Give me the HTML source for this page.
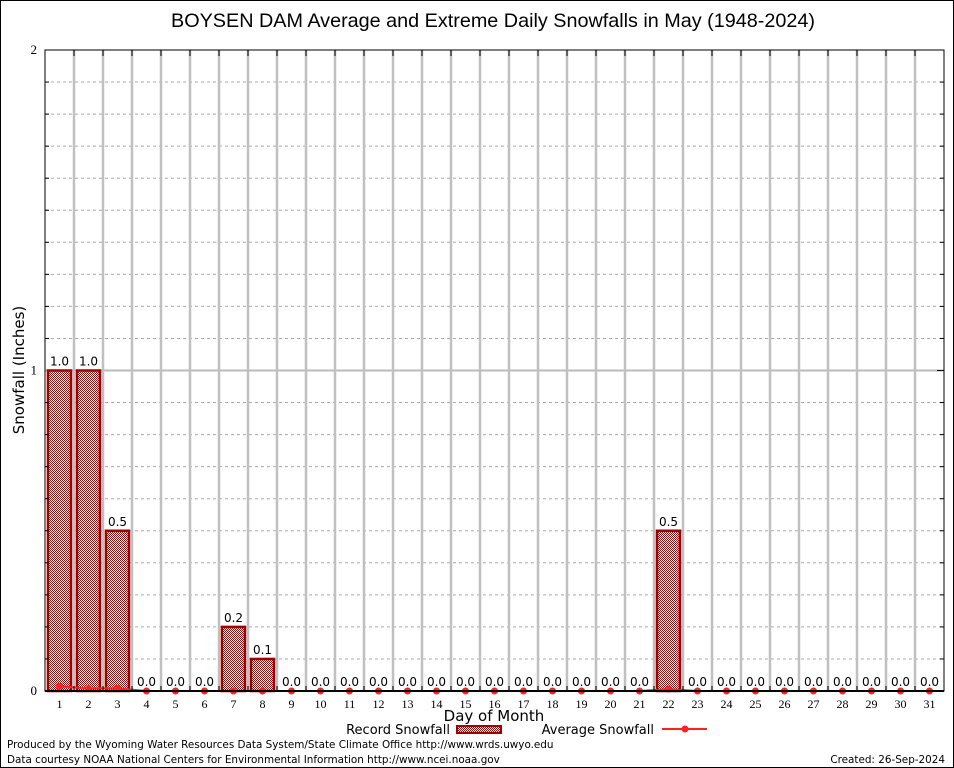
<!DOCTYPE html>
<html><head><meta charset="utf-8"><style>
body{margin:0;background:#fff;}
svg{display:block;font-family:"DejaVu Sans","Liberation Sans",sans-serif;}
</style></head><body>
<svg id="chart" width="954" height="768" viewBox="0 0 954 768">
<defs>
<pattern id="hatch" width="2" height="2" patternUnits="userSpaceOnUse">
<rect width="2" height="2" fill="#fff"/>
<rect width="1" height="1" fill="#c00000"/><rect x="1" y="1" width="1" height="1" fill="#c00000"/>
</pattern>
</defs>
<rect x="0.5" y="0.5" width="953" height="767" fill="#fff" stroke="#000"/>
<text x="493" y="27" text-anchor="middle" font-size="19.8" font-family="Liberation Sans, sans-serif">BOYSEN DAM Average and Extreme Daily Snowfalls in May (1948-2024)</text>
<g id="grid"></g>
<g id="bars"></g>
<g id="avg"></g>
<g id="axes"></g>
<text x="24" y="370" transform="rotate(-90 24 370)" text-anchor="middle" font-size="15">Snowfall (Inches)</text>
<text x="494" y="721" text-anchor="middle" font-size="15">Day of Month</text>
<g>
<text x="450" y="734" text-anchor="end" font-size="13">Record Snowfall</text>
<rect x="457" y="726" width="44" height="7" fill="url(#hatch)" stroke="#a00000" stroke-width="2"/>
<text x="654" y="734" text-anchor="end" font-size="13">Average Snowfall</text>
<line x1="662" y1="729" x2="707" y2="729" stroke="#ff2020" stroke-width="2"/>
<circle cx="685" cy="729" r="3.5" fill="#ff2020"/>
</g>
<text x="7" y="748" font-size="10.4">Produced by the Wyoming Water Resources Data System/State Climate Office http://www.wrds.uwyo.edu</text>
<text x="7" y="763" font-size="10.4">Data courtesy NOAA National Centers for Environmental Information http://www.ncei.noaa.gov</text>
<text x="945" y="763" text-anchor="end" font-size="10.4">Created:  26-Sep-2024</text>
</svg>
<script>
const days=[1,2,3,4,5,6,7,8,9,10,11,12,13,14,15,16,17,18,19,20,21,22,23,24,25,26,27,28,29,30,31];
const recordSnow=[1.0,1.0,0.5,0,0,0,0.2,0.1,0,0,0,0,0,0,0,0,0,0,0,0,0,0.5,0,0,0,0,0,0,0,0,0];
const avgSnow=[0.015,0.008,0.008,0,0,0,0,0,0,0,0,0,0,0,0,0,0,0,0,0,0,0.006,0,0,0,0,0,0,0,0,0];
const yTicks=[0,1,2];
const NS='http://www.w3.org/2000/svg';
const L=45,R=944,T=50,B=691,yMax=2;
const step=(R-L)/days.length;
const xS=d=>L+(d-0.5)*step;
const yS=v=>B-(v/yMax)*(B-T);
function mk(tag,attrs,parent){const e=document.createElementNS(NS,tag);for(const k in attrs)e.setAttribute(k,attrs[k]);parent.appendChild(e);return e;}
const grid=document.getElementById('grid'),bars=document.getElementById('bars'),avg=document.getElementById('avg'),axes=document.getElementById('axes');
for(let i=1;i<20;i++){if(i%10===0)continue;const y=yS(i/10);
const g=mk('line',{x1:L,x2:R,y1:y,y2:y,stroke:'#aaa','stroke-dasharray':'3,3','stroke-width':1},grid);


const t1=mk('line',{x1:L,x2:L+4,y1:y,y2:y,stroke:'#000'},axes);
const t2=mk('line',{x1:R-4,x2:R,y1:y,y2:y,stroke:'#000'},axes);}
yTicks.forEach(v=>{const y=yS(v);
if(v>0&&v<yMax){const g=mk('line',{x1:L,x2:R,y1:y,y2:y,stroke:'#bbb','stroke-width':2},grid);}
const t=mk('text',{x:L-8,y:y+4,'text-anchor':'end','font-size':13,'font-family':'Liberation Serif, serif'},axes);t.textContent=v;


const tk=mk('line',{x1:R-7,x2:R,y1:y,y2:y,stroke:'#000'},axes);});
for(let i=1;i<days.length;i++){const x=L+i*step;
const g=mk('line',{x1:x,x2:x,y1:T,y2:B,stroke:'#c0c0c0','stroke-width':2.5},grid);


const t=mk('line',{x1:x,x2:x,y1:T,y2:T+6,stroke:'#000'},axes);
const t2=mk('line',{x1:x,x2:x,y1:B-5,y2:B,stroke:'#000'},axes);}
days.forEach((d,i)=>{const v=recordSnow[i],x=xS(d);
if(v>0){const r=mk('rect',{x:x-11.5,y:yS(v),width:23,height:B-yS(v),fill:'url(#hatch)',stroke:'#a00000','stroke-width':2.5},bars);

}
const t=mk('text',{x:x,y:yS(v)-5,'text-anchor':'middle','font-size':12},bars);t.textContent=v.toFixed(1);


const xl=mk('text',{x:x,y:B+17,'text-anchor':'middle','font-size':12,'font-family':'Liberation Serif, serif'},axes);xl.textContent=d;

});
const pl=mk('polyline',{points:days.map((d,i)=>xS(d)+','+yS(avgSnow[i])).join(' '),fill:'none',stroke:'#ff2020','stroke-width':2},avg);


days.forEach((d,i)=>{const m=mk('circle',{cx:xS(d),cy:yS(avgSnow[i]),r:3.5,fill:'#ff2020'},avg);

});
const fr=mk('rect',{x:L,y:T,width:R-L,height:B-T,fill:'none',stroke:'#000','stroke-width':1},axes);


const bl=mk('line',{x1:L,x2:R,y1:B,y2:B,stroke:'#000','stroke-width':2},axes);


</script>
</body></html>
